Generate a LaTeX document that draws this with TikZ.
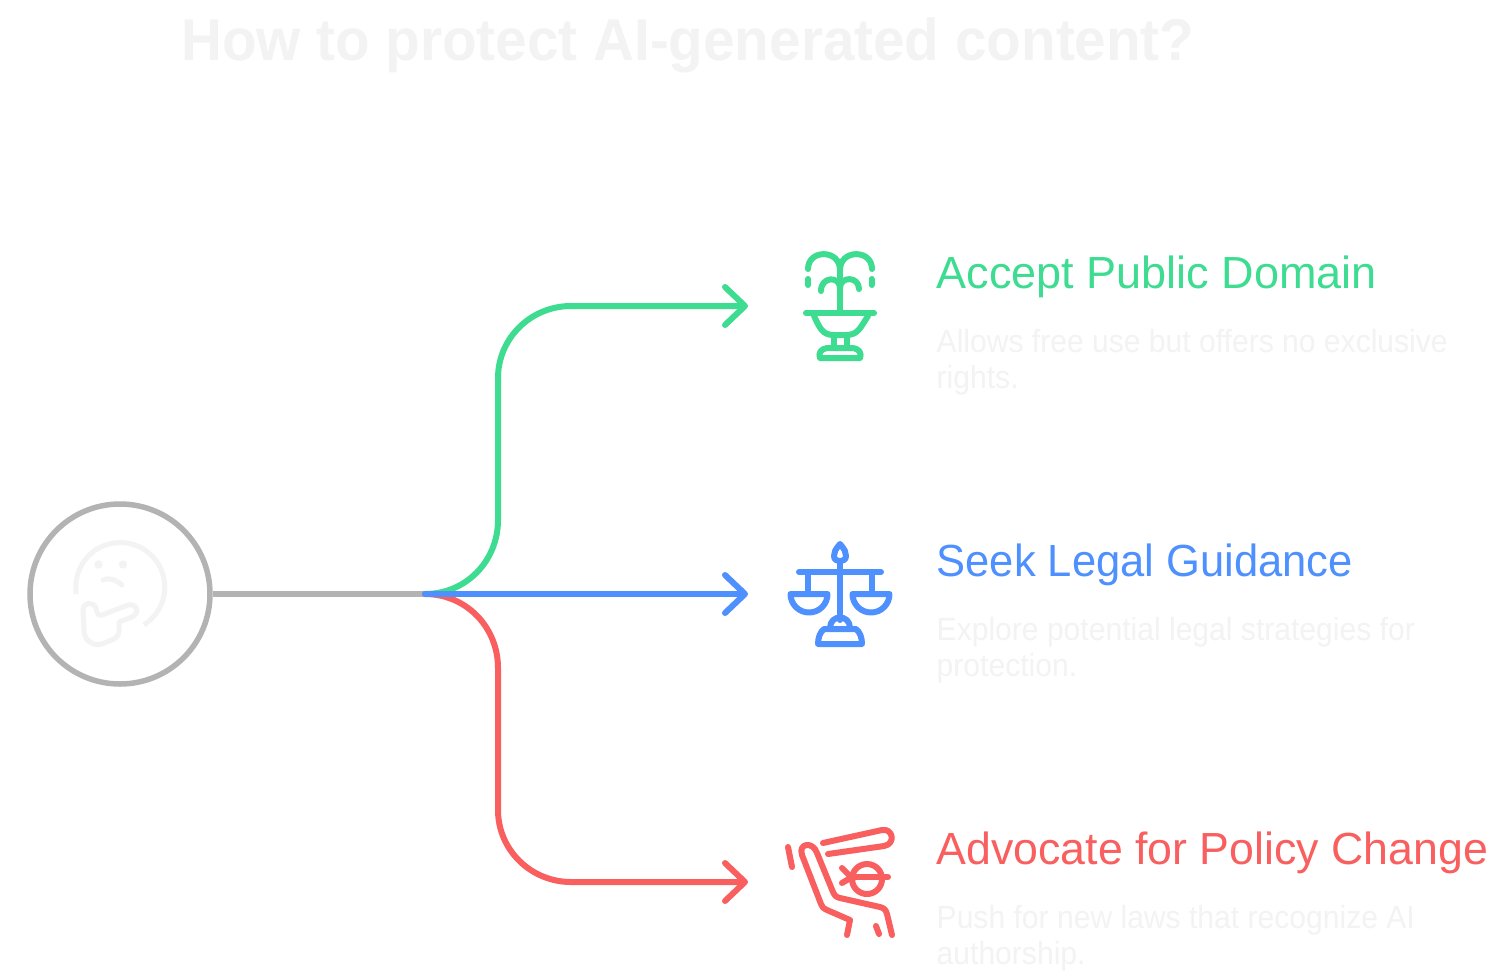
\documentclass[tikz,border=0pt]{standalone}
\usepackage{fontspec}
\setmainfont{Liberation Sans}
\newfontfamily\ttlfont[FakeStretch=0.96]{Liberation Sans}
\newfontfamily\descfont[FakeStretch=0.94]{Liberation Sans}
\newfontfamily\headb[FakeStretch=0.967]{Liberation Sans}
\newfontfamily\headc[FakeStretch=0.993]{Liberation Sans}
\usetikzlibrary{arrows.meta}
\definecolor{cgreen}{HTML}{3DDC91}
\definecolor{cblue}{HTML}{4D90FE}
\definecolor{cred}{HTML}{F95F5F}
\definecolor{cgray}{HTML}{B3B3B3}
\definecolor{cpale}{HTML}{F3F3F3}
\tikzset{
 conn/.style={line width=6pt,line cap=round,line join=round,-{Straight Barb[length=20pt,width=38pt,round]}},
 icon/.style={line width=6pt,line cap=round,line join=round},
 ttl/.style={anchor=base west,inner sep=0pt,text=cpale,font=\ttlfont\fontsize{59}{59}\selectfont\bfseries},
 head/.style={anchor=base west,inner sep=0pt},
 desc/.style={anchor=base west,inner sep=0pt,text=cpale,align=left,font=\descfont\fontsize{32}{36}\selectfont},
}
\begin{document}
\begin{tikzpicture}[x=1pt,y=-1pt]
\useasboundingbox (0,0) rectangle (1510,978);
\fill[white] (0,0) rectangle (1510,978);
\node[ttl] (title) at (181,60) {How to protect AI-generated content?};
% root
\node[circle,draw=cgray,line width=5.5pt,minimum size=180pt,inner sep=0pt] (root) at (120,594) {};
\coordinate (fork) at (425,594);
\coordinate (tg) at (748,306);
\coordinate (tb) at (748,594);
\coordinate (tr) at (748,882);
% think icon
\begin{scope}[icon,draw=cpale,line cap=butt,line width=5pt]
\draw (76.3,594) arc[start angle=171,end angle=418,radius=44.5];
\fill[cpale] (98.5,564.5) circle (4.2) (123,564.5) circle (4.2);
\draw[line cap=round] (103,580) .. controls (110,577) and (116,580) .. (122,585);
\draw[line cap=round] (83,610) .. controls (83,602) and (93,601) .. (96,608) .. controls (97,613) and (98,616) .. (102,615) -- (128,605) .. controls (136,603) and (141,612) .. (132,617) -- (119,622) -- (119,630) .. controls (119,636) and (116,638) .. (112,640) .. controls (104,643) and (100,646) .. (94,644) .. controls (88,642) and (84,638) .. (84,630) -- cycle;
\end{scope}
\draw[line width=5.5pt,cgray] (root) -- (fork);
\draw[conn,cgreen] (fork) .. controls (466,594) and (498,561) .. (498,520) -- (498,378) .. controls (498,338) and (531,306) .. (571,306) -- (tg);
\draw[conn,cred] (fork) .. controls (466,594) and (498,627) .. (498,668) -- (498,810) .. controls (498,850) and (531,882) .. (571,882) -- (tr);
\draw[conn,cblue] (fork) -- (tb);
% fountain
\begin{scope}[icon,draw=cgreen]
\draw (808,269) .. controls (808,249) and (840,249) .. (840,270) .. controls (840,249) and (872,249) .. (872,269);
\draw (808,279) -- (808,285) (871.5,279) -- (871.5,285);
\draw (821,291) .. controls (821,276) and (840,276) .. (840,288) .. controls (840,276) and (859,276) .. (859,289);
\draw (840,270) -- (840,312);
\draw (806,313) -- (874,313);
\draw (814,316) .. controls (820,328) and (822,335) .. (834,335) -- (846,335) .. controls (858,335) and (860,328) .. (868,316);
\draw (833.5,335) -- (833.5,347) (846.5,335) -- (846.5,347);
\draw (827,348) -- (853,348) .. controls (859,349) and (862,353) .. (860,358) -- (820,358) .. controls (818,353) and (821,349) .. (827,348) -- cycle;
\end{scope}
% scales
\begin{scope}[icon,draw=cblue]
\draw (840,544) .. controls (835,550) and (834,552) .. (834,556) .. controls (834,563) and (846,563) .. (846,556) .. controls (846,552) and (845,550) .. (840,544) -- cycle;
\draw (840,563) -- (840,620);
\draw (799,572) -- (881,572);
\draw (808,572) -- (808,592) (872,572) -- (872,592);
\draw (790.5,594) -- (827.5,594) arc[start angle=0,end angle=-180,radius=18.5,y radius=-18.5] -- cycle;
\draw (852.5,594) -- (889.5,594) arc[start angle=0,end angle=-180,radius=18.5,y radius=-18.5] -- cycle;
\draw (830,628) .. controls (830,614) and (850,614) .. (850,628);
\draw (824,629) -- (856,629) .. controls (860,632) and (862,638) .. (862,644) -- (818,644) .. controls (818,638) and (820,632) .. (824,629) -- cycle;
\end{scope}
% advocate
\begin{scope}[icon,draw=cred]
\draw (823,843) -- (882,830) .. controls (893,828) and (896,844) .. (884,846) -- (828,854);
\draw (788,847) -- (792,867);
\draw (847,935) -- (850,920) -- (827,910) .. controls (823,908) and (822,907) .. (821,904) -- (802,855) .. controls (798,843) and (813,841) .. (817,853) -- (833,892) .. controls (835,896) and (836,897) .. (840,898) -- (880,907) .. controls (884,908) and (886,910) .. (887,914) -- (892,935);
\draw (876,926) -- (879,934);
\draw (867,879) circle (15);
\draw (855,877) -- (888,877);
\draw (842,868) -- (853,879) (842,883) -- (852,877);
\end{scope}
\node[head,text=cgreen,font=\fontsize{45}{45}\selectfont] (h1) at (936.5,288) {Accept Public Domain};
\node[head,text=cblue,font=\headb\fontsize{45}{45}\selectfont] (h2) at (936.5,576) {Seek Legal Guidance};
\node[head,text=cred,font=\headc\fontsize{45}{45}\selectfont] (h3) at (936.5,864) {Advocate for Policy Change};
\node[desc] (d1) at (936.5,388) {Allows free use but offers no exclusive\\rights.};
\node[desc] (d2) at (936.5,676) {Explore potential legal strategies for\\protection.};
\node[desc] (d3) at (936.5,964) {Push for new laws that recognize AI\\authorship.};
\end{tikzpicture}
\end{document}
